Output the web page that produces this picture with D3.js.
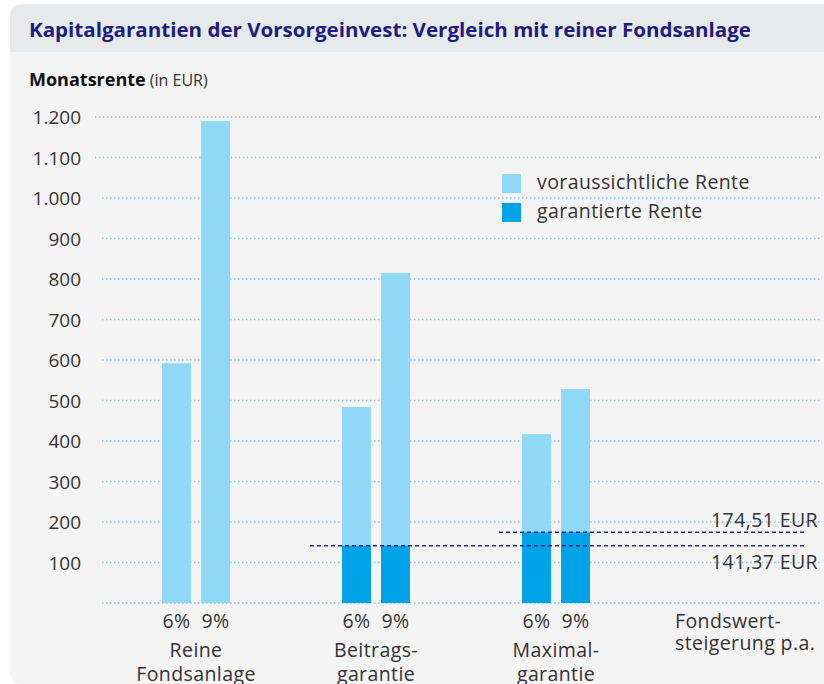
<!DOCTYPE html>
<meta charset="utf-8">
<script src="https://d3js.org/d3.v7.min.js"></script>
<style>
  body { margin: 0; background: #fff; }
  text { font-family: 'Open Sans', 'DejaVu Sans', sans-serif; }
  .grid line { stroke: #8ec0e6; stroke-width: 1.3; stroke-dasharray: 1.5 2.5; }
  .tick-label { font-size: 19px; fill: #333; }
  .cat-label { font-size: 19.5px; fill: #333; letter-spacing: 0.4px; }
</style>
<div id="chart"></div>
<script>
// data
const groups = ["Reine Fondsanlage", "Beitragsgarantie", "Maximalgarantie"];
const groupLines = [["Reine", "Fondsanlage"], ["Beitrags-", "garantie"], ["Maximal-", "garantie"]];
const rates = ["6%", "9%"];
const expected = [[592, 1190], [484, 815], [417, 528]];
const guaranteed = [[0, 0], [141.37, 141.37], [174.51, 174.51]];
const guaranteeLines = [141.37, 174.51];
const guaranteeLabels = ["141,37 EUR", "174,51 EUR"];
const yTicks = [100, 200, 300, 400, 500, 600, 700, 800, 900, 1000, 1100, 1200];
const legendItems = ["voraussichtliche Rente", "garantierte Rente"];

const W = 824, H = 684;
const lightBlue = "#8fd8f6", darkBlue = "#00a3e8", navy = "#1b2a8a";

const svg = d3.select("#chart").append("svg")
  .attr("width", W).attr("height", H);

// panel
svg.append("path")
  .attr("d", "M10,16 Q10,4 22,4 L824,4 L824,684 L22,684 Q10,684 10,672 Z")
  .attr("fill", "#f4f4f4");
svg.append("path")
  .attr("d", "M10,16 Q10,4 22,4 L824,4 L824,52 L10,52 Z")
  .attr("fill", "#e8e9ea");

svg.append("text")
  .attr("x", 29).attr("y", 37)
  .attr("font-size", 19).attr("font-weight", "bold")
  .attr("fill", "#1d1d80")
  .attr("textLength", 722).attr("lengthAdjust", "spacingAndGlyphs")
  .text("Kapitalgarantien der Vorsorgeinvest: Vergleich mit reiner Fondsanlage");

const sub = svg.append("text").attr("x", 29).attr("y", 86).attr("fill", "#111");
sub.append("tspan").attr("font-size", 18).attr("font-weight", "bold").text("Monatsrente");
sub.append("tspan").attr("font-size", 16).attr("fill", "#333").text(" (in EUR)");

// scales
const y = d3.scaleLinear().domain([0, 1200]).range([603, 117]);
const xg = d3.scalePoint().domain(groups).range([196, 556]);
const xr = d3.scaleBand().domain(rates).range([-34, 34]).paddingInner(0.256);

// grid
const grid = svg.append("g").attr("class", "grid");
grid.selectAll("line").data([0].concat(yTicks)).join("line")
  .attr("x1", d => d >= 1100 ? 95 : 102).attr("x2", 820)
  .attr("y1", d => y(d)).attr("y2", d => y(d));

svg.append("g").selectAll("text").data(yTicks).join("text")
  .attr("class", "tick-label")
  .attr("x", 81).attr("y", d => y(d) + 7)
  .attr("text-anchor", "end")
  .text(d => d3.format(",")(d).replace(/,/g, "."));

// bars
const g = svg.append("g").selectAll("g").data(groups).join("g")
  .attr("transform", d => `translate(${xg(d)},0)`);

g.selectAll(".exp").data((d, i) => rates.map((r, j) => ({ r, v: expected[i][j] })))
  .join("rect").attr("class", "exp")
  .attr("x", d => xr(d.r)).attr("width", xr.bandwidth())
  .attr("y", d => y(d.v)).attr("height", d => y(0) - y(d.v))
  .attr("fill", lightBlue);

g.selectAll(".gar").data((d, i) => rates.map((r, j) => ({ r, v: guaranteed[i][j] })))
  .join("rect").attr("class", "gar")
  .attr("x", d => xr(d.r)).attr("width", xr.bandwidth())
  .attr("y", d => y(d.v)).attr("height", d => y(0) - y(d.v))
  .attr("fill", darkBlue);

g.selectAll(".rate").data(rates).join("text")
  .attr("class", "cat-label rate")
  .attr("x", d => xr(d) + xr.bandwidth() / 2).attr("y", 628)
  .attr("text-anchor", "middle")
  .text(d => d);

g.each(function (d, i) {
  const t = d3.select(this).append("text").attr("class", "cat-label")
    .attr("text-anchor", "middle");
  groupLines[i].forEach((line, k) => {
    t.append("tspan").attr("x", 0).attr("y", 657 + k * 24).text(line);
  });
});

// guarantee dashed lines
const dashStart = [xg(groups[1]) - 66, xg(groups[2]) - 57];
svg.append("g").selectAll("line").data(guaranteeLines).join("line")
  .attr("x1", (d, i) => dashStart[i]).attr("x2", 806)
  .attr("y1", d => y(d)).attr("y2", d => y(d))
  .attr("stroke", navy).attr("stroke-width", 1.6)
  .attr("stroke-dasharray", "4 3");

svg.append("g").selectAll("text").data(guaranteeLabels).join("text")
  .attr("class", "cat-label")
  .attr("x", 818).attr("text-anchor", "end")
  .attr("y", (d, i) => i === 0 ? 569 : 527)
  .text(d => d);

// x axis caption
const cap = svg.append("text").attr("class", "cat-label");
["Fondswert-", "steigerung p.a."].forEach((s, k) => {
  cap.append("tspan").attr("x", 675).attr("y", 628 + k * 22).text(s);
});

// legend
const leg = svg.append("g").selectAll("g").data(legendItems).join("g")
  .attr("transform", (d, i) => `translate(502,${174 + i * 29})`);
leg.append("rect").attr("width", 19).attr("height", 19)
  .attr("fill", (d, i) => i === 0 ? lightBlue : darkBlue);
leg.append("text").attr("class", "cat-label")
  .attr("x", 35).attr("y", 15).text(d => d);
</script>
